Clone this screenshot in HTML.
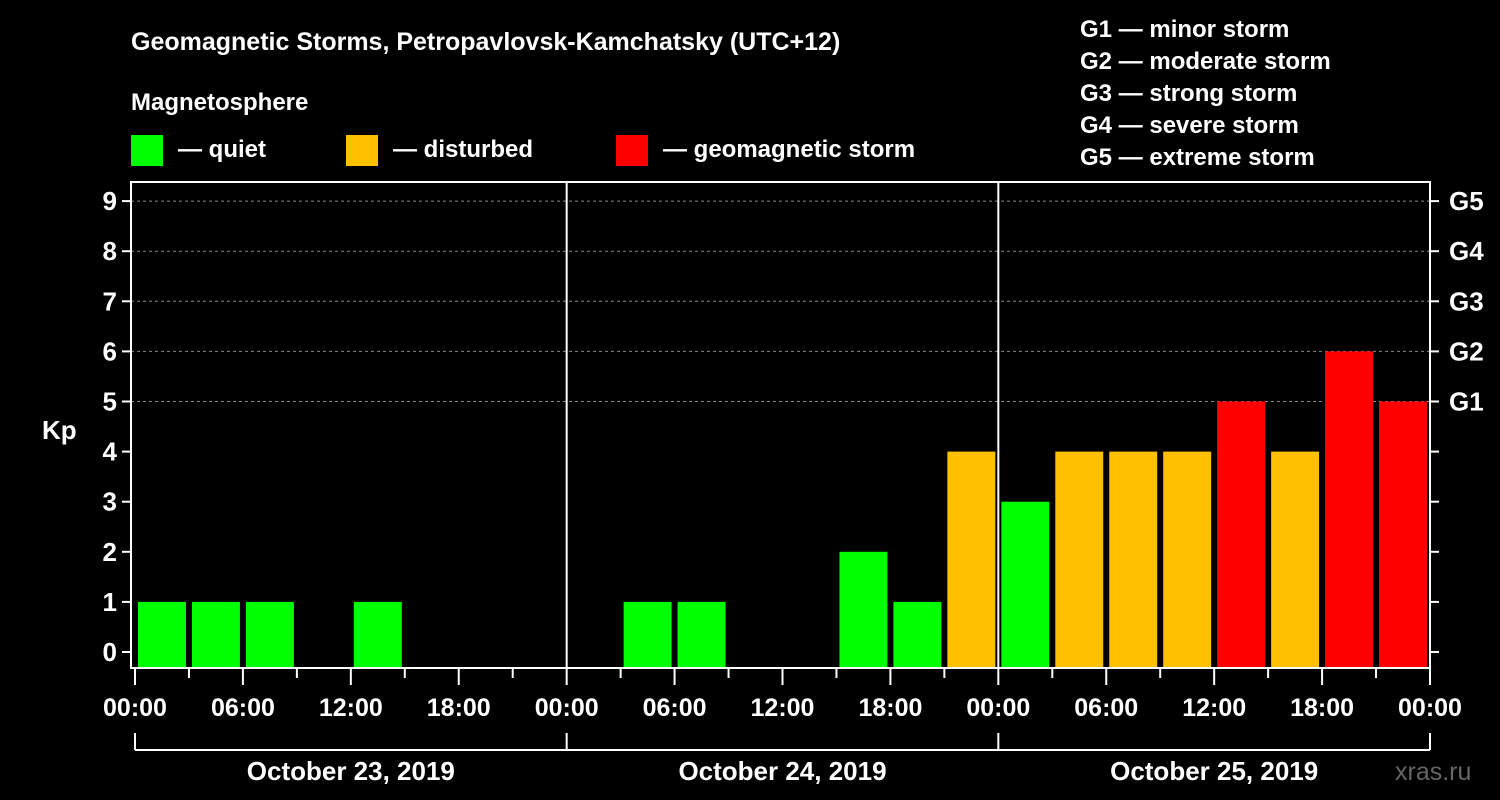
<!DOCTYPE html>
<html><head><meta charset="utf-8"><style>
html,body{margin:0;padding:0;background:#000;}
svg{display:block;font-family:"Liberation Sans",Arial,sans-serif;font-weight:bold;}
</style></head><body>
<svg id="chart" width="1500" height="800" viewBox="0 0 1500 800">
<rect width="1500" height="800" fill="#000"/>
<text x="131" y="50" fill="#fff" font-size="25">Geomagnetic Storms, Petropavlovsk-Kamchatsky (UTC+12)</text>
<text x="131" y="110" fill="#fff" font-size="24">Magnetosphere</text>
<g><rect x="131" y="135" width="32" height="31" fill="#00ff00"/><text x="178" y="157" fill="#fff" font-size="24">— quiet</text></g>
<g><rect x="346" y="135" width="32" height="31" fill="#ffc000"/><text x="393" y="157" fill="#fff" font-size="24">— disturbed</text></g>
<g><rect x="616" y="135" width="32" height="31" fill="#ff0000"/><text x="663" y="157" fill="#fff" font-size="24">— geomagnetic storm</text></g>
<g fill="#fff" font-size="24">
<text x="1080" y="37">G1 — minor storm</text>
<text x="1080" y="69">G2 — moderate storm</text>
<text x="1080" y="101">G3 — strong storm</text>
<text x="1080" y="133">G4 — severe storm</text>
<text x="1080" y="165">G5 — extreme storm</text>
</g>
<text x="42" y="439" fill="#fff" font-size="26">Kp</text>
<text x="1395" y="780" fill="#666" font-size="25" font-weight="normal">xras.ru</text>
<g id="grid"></g><g id="bars"></g><g id="axes"></g>
</svg>
<script>
const days = ["October 23, 2019","October 24, 2019","October 25, 2019"];
const kpValues = [1,1,1,0,1,0,0,0, 0,1,1,0,0,2,1,4, 3,4,4,4,5,4,6,5];
const yTicks = [0,1,2,3,4,5,6,7,8,9];
const gLabels = ["G1","G2","G3","G4","G5"];
const hourLabels = ["00:00","06:00","12:00","18:00"];

const NS="http://www.w3.org/2000/svg";
const X0=135, X1=1430, PL=131, PT=182, PB=668;
const totalHours = days.length*24;
const xs = h => X0 + (X1-X0)*h/totalHours;
const ys = v => 652 - v*50.1;
function mk(tag, attrs, parent){const e=document.createElementNS(NS,tag);for(const k in attrs)e.setAttribute(k,attrs[k]);parent.appendChild(e);return e;}
const grid=document.getElementById('grid'), bars=document.getElementById('bars'), axes=document.getElementById('axes');

// plot frame
let fr=mk('rect',{x:PL,y:PT,width:X1-PL,height:PB-PT,fill:'none',stroke:'#fff','stroke-width':2},axes);



// y gridlines & ticks
yTicks.forEach(v=>{
  const y=ys(v);
  if(v>=5){
    const gl=mk('line',{x1:PL,x2:X1,y1:y,y2:y,stroke:'#888','stroke-width':1,'stroke-dasharray':'3,3'},grid);
    
    
  }
  mk('line',{x1:PL-9,x2:PL,y1:y,y2:y,stroke:'#fff','stroke-width':2},axes);
  mk('line',{x1:X1,x2:X1+9,y1:y,y2:y,stroke:'#fff','stroke-width':2},axes);
  const t=mk('text',{x:PL-14,y:y+9,fill:'#fff','font-size':26,'text-anchor':'end'},axes);
  t.textContent=v;
  
  
  if(v>=5){
    const g=mk('text',{x:1449,y:y+9,fill:'#fff','font-size':26},axes);
    g.textContent=gLabels[v-5];
    
    
  }
});

// bars
kpValues.forEach((v,i)=>{
  if(v<=0) return;
  const xa=xs(i*3)+3, xb=xs(i*3+3)-3;
  const col = v>=5 ? '#ff0000' : (v>=4 ? '#ffc000' : '#00ff00');
  const r=mk('rect',{x:xa,y:ys(v),width:xb-xa,height:PB-ys(v),fill:col},bars);
  
  
});

// day dividers
for(let d=1; d<days.length; d++){
  const x=xs(d*24);
  mk('line',{x1:x,x2:x,y1:PT,y2:PB,stroke:'#fff','stroke-width':2},axes);
}

// x ticks and labels
for(let h=0; h<=totalHours; h+=3){
  const x=xs(h), major=h%6===0;
  mk('line',{x1:x,x2:x,y1:PB,y2:major?685:678,stroke:'#fff','stroke-width':2},axes);
  if(major){
    const t=mk('text',{x:x,y:716,fill:'#fff','font-size':25,'text-anchor':'middle'},axes);
    t.textContent=hourLabels[(h%24)/6];
    
    
  }
}

// day brackets
mk('line',{x1:X0,x2:X1,y1:750,y2:750,stroke:'#fff','stroke-width':2},axes);
for(let d=0; d<=days.length; d++){
  const x=xs(d*24);
  mk('line',{x1:x,x2:x,y1:733,y2:750,stroke:'#fff','stroke-width':2},axes);
}
days.forEach((s,d)=>{
  const t=mk('text',{x:xs(d*24+12),y:780,fill:'#fff','font-size':26,'text-anchor':'middle'},axes);
  t.textContent=s;
  
  
});
</script>
</body></html>
